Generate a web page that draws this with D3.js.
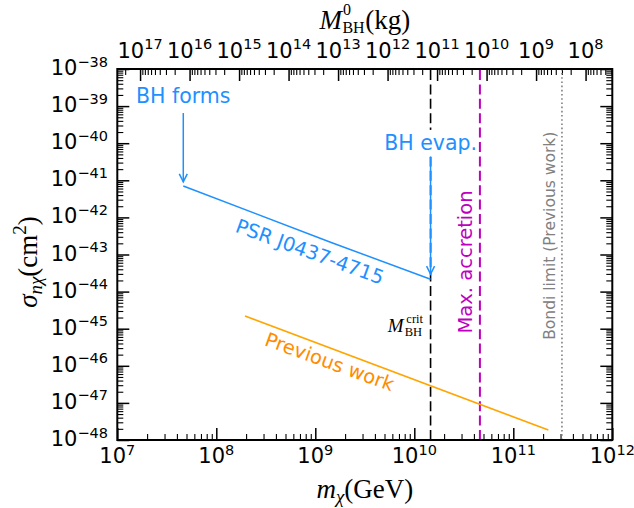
<!DOCTYPE html>
<html><head><meta charset="utf-8">
<script src="https://cdn.jsdelivr.net/npm/d3@7/dist/d3.min.js"></script>
<style>body{margin:0;background:#fff}</style>
</head><body>
<svg id="chart" width="634" height="508"></svg>
<script>
// ---------------- data ----------------
const psrMass  = [4.64e7, 1.47e9, 1.46e10];      // m_chi (GeV)
const psrSigma = [7.0e-42, 2.08e-43, 2.15e-44];  // sigma (cm^2)
const prevMass  = [1.95e8, 2.26e11];
const prevSigma = [2.2e-45, 1.86e-48];
const critMass   = 1.46e10;
const maxAccMass = 4.6e10;
const bondiMass  = 3.1e11;
const xExps   = [7, 8, 9, 10, 11, 12];
const yExps   = [-48, -47, -46, -45, -44, -43, -42, -41, -40, -39, -38];
const topExps = [17, 16, 15, 14, 13, 12, 11, 10, 9, 8];
const massConvLog = 31.46;               // log10 of M0[kg]*m^2[GeV^2]
const formsArrow = {m: 4.64e7, from: 6.5e-40, to: 9.1e-42};
const evapArrow  = {m: 1.46e10, from: 4.4e-41, to: 2.95e-44};
const formsText  = {m: 4.64e7, s: 1.19e-39};
const evapText   = {m: 1.46e10, s: 6.6e-41};
const psrText    = {m: 8.8e8, s: 1.17e-43};
const prevText   = {m: 1.39e9, s: 1.26e-46};
const maxText    = {m: 3.29e10, s: 6.3e-44};
const bondiText  = {m: 2.35e11, s: 3.2e-43};
const critText   = {m: 1.225e10, s: 8.3e-46};

// ---------------- layout ----------------
const L = 117.3, R = 612.3, T = 69, B = 440;
const svg = d3.select('#chart');
svg.append('rect').attr('width', 634).attr('height', 508).attr('fill', '#fff');

const x = d3.scaleLog().domain([1e7, 1e12]).range([L, R]);
const y = d3.scaleLog().domain([1e-48, 1e-38]).range([B, T]);
const xt = d3.scaleLog()
  .domain([Math.pow(10, massConvLog - 14), Math.pow(10, massConvLog - 24)])
  .range([L, R]);

function minors(lo, hi, scaleDom) {
  const out = [];
  const [a, b] = d3.extent(scaleDom);
  for (let e = lo; e <= hi; e++) for (let k = 2; k <= 9; k++) {
    const v = k * Math.pow(10, e);
    if (v > a && v < b) out.push(v);
  }
  return out;
}
const xMajor = xExps.map(e => Math.pow(10, e));
const yMajor = yExps.map(e => Math.pow(10, e));
const tMajor = topExps.map(e => Math.pow(10, e));
const xMinor = minors(7, 11, x.domain());
const yMinor = minors(-48, -39, y.domain());
const tMinor = minors(7, 17, xt.domain());

function drawAxis(axisFn, scale, vals, size, width, tr) {
  const g = svg.append('g').attr('transform', tr)
    .call(axisFn(scale).tickValues(vals).tickSize(-size).tickFormat(''));
  g.select('.domain').remove();
  g.selectAll('line').attr('stroke', '#000').attr('stroke-width', width);
  return g;
}
const MAJ = 12, MIN = 6;
drawAxis(d3.axisBottom, x, xMajor, MAJ, 1.5, `translate(0,${B})`);
drawAxis(d3.axisBottom, x, xMinor, MIN, 1.1, `translate(0,${B})`);
drawAxis(d3.axisLeft, y, yMajor, MAJ, 1.5, `translate(${L},0)`);
drawAxis(d3.axisLeft, y, yMinor, MIN, 1.1, `translate(${L},0)`);
drawAxis(d3.axisRight, y, yMajor, MAJ, 1.5, `translate(${R},0)`);
drawAxis(d3.axisRight, y, yMinor, MIN, 1.1, `translate(${R},0)`);
drawAxis(d3.axisTop, xt, tMajor, MAJ, 1.5, `translate(0,${T})`);
drawAxis(d3.axisTop, xt, tMinor, MIN, 1.1, `translate(0,${T})`);

// tick labels
const FONT = 'DejaVu Sans, sans-serif';
function sci(px, py, exp, anchor) {
  const t = svg.append('text').attr('x', px).attr('y', py)
    .attr('font-family', FONT).attr('font-size', 21)
    .attr('text-anchor', anchor).attr('fill', '#000');
  t.append('tspan').text('10');
  t.append('tspan').attr('dy', -8.5).attr('font-size', 14.5)
    .text(exp < 0 ? '\u2212' + (-exp) : String(exp));
}
xExps.forEach(e => sci(x(Math.pow(10, e)), 463, e, 'middle'));
yExps.forEach(e => sci(108, y(Math.pow(10, e)) + 6, e, 'end'));
topExps.forEach(e => sci(xt(Math.pow(10, e)), 57.5, e, 'middle'));

// lines
const line = d3.line().x(d => x(d[0])).y(d => y(d[1]));
function vline(m, color, w, dash) {
  svg.append('line').attr('x1', x(m)).attr('x2', x(m))
    .attr('y1', y(1e-48)).attr('y2', y(1e-38))
    .attr('stroke', color).attr('stroke-width', w)
    .attr('stroke-dasharray', dash);
}
vline(critMass, '#000', 1.6, '10,4.4');
vline(maxAccMass, '#BF00BF', 2, '10,4.4');
vline(bondiMass, '#808080', 1.6, '1.6,2.6');

svg.append('path').datum(d3.zip(psrMass, psrSigma)).attr('d', line)
  .attr('fill', 'none').attr('stroke', '#1E90FF').attr('stroke-width', 1.5);
svg.append('path').datum(d3.zip(prevMass, prevSigma)).attr('d', line)
  .attr('fill', 'none').attr('stroke', '#FFA500').attr('stroke-width', 1.7);

function label(p, txt, color, size, rot, anchor, baseline) {
  const px = x(p.m), py = y(p.s);
  return svg.append('text').attr('transform', `translate(${px},${py}) rotate(${rot})`)
    .attr('font-family', FONT).attr('font-size', size).attr('fill', color)
    .attr('text-anchor', anchor || 'middle')
    .attr('dominant-baseline', baseline || 'auto')
    .text(txt);
}

// white box behind "BH evap." (hides dashed line as in reference)
{
  const px = x(evapText.m), py = y(evapText.s);
  svg.append('rect').attr('x', px - 48).attr('y', py - 20)
    .attr('width', 95).attr('height', 27).attr('fill', '#fff');
}

// arrows
function arrow(a) {
  const ax = x(a.m), y0 = y(a.from), y1 = y(a.to);
  svg.append('line').attr('x1', ax).attr('x2', ax).attr('y1', y0).attr('y2', y1)
    .attr('stroke', '#1E90FF').attr('stroke-width', 1.5);
  svg.append('path').attr('d', `M${ax - 4},${y1 - 8}L${ax},${y1}L${ax + 4},${y1 - 8}`)
    .attr('fill', 'none').attr('stroke', '#1E90FF').attr('stroke-width', 1.5);
}
arrow(formsArrow);
arrow(evapArrow);

label(formsText, 'BH forms', '#1E90FF', 20.5, 0);
label(evapText, 'BH evap.', '#1E90FF', 20.5, 0);
label(psrText, 'PSR J0437-4715', '#1E90FF', 19.5, 20, 'middle', 'central');
label(prevText, 'Previous work', '#FF8C00', 19.5, 20, 'middle', 'central');
label(maxText, 'Max. accretion', '#BF00BF', 19.5, -90, 'middle', 'central');
label(bondiText, 'Bondi limit (Previous work)', '#808080', 15.5, -90, 'middle', 'central');

// M_BH^crit (separate pieces so sub/sup stack like the reference)
const SERIF = 'Liberation Serif, Times New Roman, serif';
{
  const rx = x(critText.m), by = y(critText.s);
  const sup = svg.append('text').attr('x', rx).attr('y', by - 9)
    .attr('font-family', SERIF).attr('font-size', 12.5).attr('text-anchor', 'end').text('crit');
  const sub = svg.append('text').attr('x', rx - 1).attr('y', by + 4)
    .attr('font-family', SERIF).attr('font-size', 12.5).attr('text-anchor', 'end').text('BH');
  const w = Math.max(sup.node().getComputedTextLength(), sub.node().getComputedTextLength() + 1);
  svg.append('text').attr('x', rx - w - 1).attr('y', by)
    .attr('font-family', SERIF).attr('font-size', 19).attr('font-style', 'italic')
    .attr('text-anchor', 'end').text('M');
}

// frame
svg.append('rect').attr('x', L).attr('y', T).attr('width', R - L).attr('height', B - T)
  .attr('fill', 'none').attr('stroke', '#000').attr('stroke-width', 2);

// axis titles
{
  const t = svg.append('text').attr('x', (L + R) / 2).attr('y', 498)
    .attr('font-family', SERIF).attr('font-size', 27).attr('text-anchor', 'middle');
  t.append('tspan').attr('font-style', 'italic').text('m');
  t.append('tspan').attr('font-style', 'italic').attr('font-size', 19).attr('dy', 5).text('\u03C7');
  t.append('tspan').attr('dy', -5).text('(GeV)');
}
{
  // top title: M_BH^0(kg), built from separate pieces
  const cx = (L + R) / 2, by = 29;
  const g = svg.append('g');
  const mT = g.append('text').attr('y', by).attr('font-family', SERIF)
    .attr('font-size', 27).attr('font-style', 'italic').text('M');
  const supT = g.append('text').attr('y', by - 14).attr('font-family', SERIF)
    .attr('font-size', 16).text('0');
  const subT = g.append('text').attr('y', by + 4).attr('font-family', SERIF)
    .attr('font-size', 16).text('BH');
  const kgT = g.append('text').attr('y', by).attr('font-family', SERIF)
    .attr('font-size', 27).text('(kg)');
  const wm = mT.node().getComputedTextLength();
  const ws = subT.node().getComputedTextLength();
  const wk = kgT.node().getComputedTextLength();
  const total = wm + ws + 1 + wk;
  const x0 = cx - total / 2;
  mT.attr('x', x0);
  supT.attr('x', x0 + wm + 1);
  subT.attr('x', x0 + wm + 0.5);
  kgT.attr('x', x0 + wm + ws + 1);
}
{
  const t = svg.append('text').attr('transform', 'translate(37,262) rotate(-90)')
    .attr('font-family', SERIF).attr('font-size', 27).attr('text-anchor', 'middle');
  t.append('tspan').attr('font-style', 'italic').text('\u03C3');
  t.append('tspan').attr('font-style', 'italic').attr('font-size', 19).attr('dy', 5).text('n\u03C7');
  t.append('tspan').attr('dy', -5).text('(cm');
  t.append('tspan').attr('font-size', 19).attr('dy', -11).text('2');
  t.append('tspan').attr('dy', 11).text(')');
}
</script>
</body></html>
